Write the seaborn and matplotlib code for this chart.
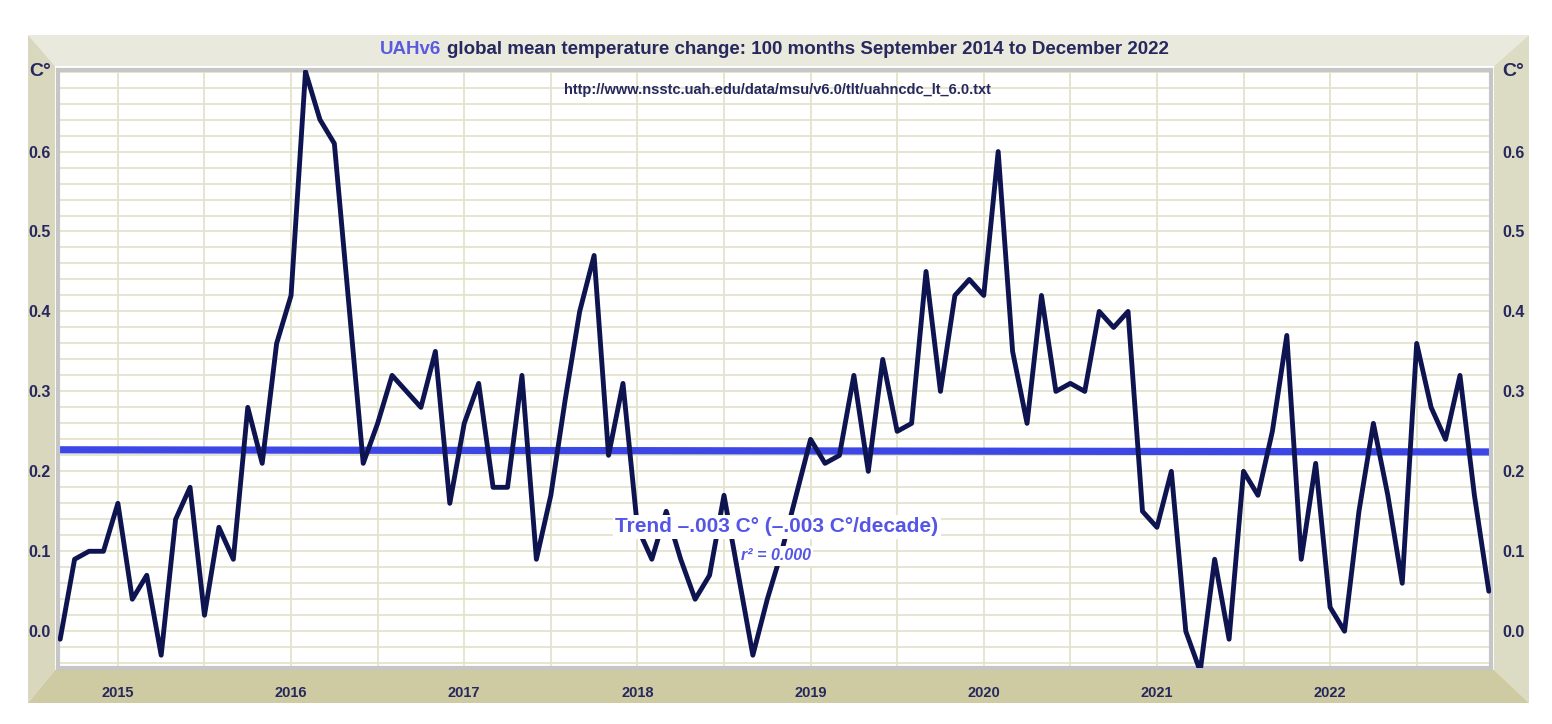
import numpy as np
import pandas as pd
import matplotlib
matplotlib.use('Agg')
import matplotlib.pyplot as plt
from matplotlib.patches import Polygon
import seaborn as sns

# monthly anomalies, Sep 2014 .. Dec 2022
temps = [-0.01, 0.09, 0.10, 0.10,
         0.16, 0.04, 0.07, -0.03, 0.14, 0.18, 0.02, 0.13, 0.09, 0.28, 0.21, 0.36,
         0.42, 0.70, 0.64, 0.61, 0.41, 0.21, 0.26, 0.32, 0.30, 0.28, 0.35, 0.16,
         0.26, 0.31, 0.18, 0.18, 0.32, 0.09, 0.17, 0.29, 0.40, 0.47, 0.22, 0.31,
         0.13, 0.09, 0.15, 0.09, 0.04, 0.07, 0.17, 0.07, -0.03, 0.04, 0.10, 0.17,
         0.24, 0.21, 0.22, 0.32, 0.20, 0.34, 0.25, 0.26, 0.45, 0.30, 0.42, 0.44,
         0.42, 0.60, 0.35, 0.26, 0.42, 0.30, 0.31, 0.30, 0.40, 0.38, 0.40, 0.15,
         0.13, 0.20, 0.00, -0.05, 0.09, -0.01, 0.20, 0.17, 0.25, 0.37, 0.09, 0.21,
         0.03, 0.00, 0.15, 0.26, 0.17, 0.06, 0.36, 0.28, 0.24, 0.32, 0.17, 0.05]
years = ['2015', '2016', '2017', '2018', '2019', '2020', '2021', '2022']
ytick_vals = [0.0, 0.1, 0.2, 0.3, 0.4, 0.5, 0.6]

df = pd.DataFrame({'month': np.arange(len(temps)), 'temp': temps})
jan_idx = [4 + 12 * i for i in range(len(years))]   # Jan 2015 is 4th month after Sep 2014

W, H = 1552, 724
navy = '#0e1450'
txt = '#26285e'
blue = '#3d47e6'

sns.set_theme(style='white')
plt.rcParams['font.family'] = ['Liberation Sans', 'DejaVu Sans']

fig = plt.figure(figsize=(W / 100, H / 100), dpi=100)
fig.patch.set_facecolor('white')

# bevelled frame around the plot
def px(x, y):
    return (x / W, 1 - y / H)

ox0, oy0, ox1, oy1 = 28, 35, 1529, 703
ix0, iy0, ix1, iy1 = 55, 66, 1494, 670
frame = [
    ([px(ox0, oy0), px(ox1, oy0), px(ix1, iy0), px(ix0, iy0)], '#e9e9dd'),  # top
    ([px(ox0, oy0), px(ix0, iy0), px(ix0, iy1), px(ox0, oy1)], '#d9d8bf'),  # left
    ([px(ox1, oy0), px(ox1, oy1), px(ix1, iy1), px(ix1, iy0)], '#dcdbc3'),  # right
    ([px(ox0, oy1), px(ix0, iy1), px(ix1, iy1), px(ox1, oy1)], '#cecaa1'),  # bottom
]
for pts, c in frame:
    fig.patches.append(Polygon(pts, closed=True, transform=fig.transFigure,
                               facecolor=c, edgecolor='none', zorder=-5))

ax = fig.add_axes([58 / W, 1 - 668 / H, (1491 - 58) / W, (668 - 70) / H])
ax.set_facecolor('white')

ax.set_xticks(jan_idx)
ax.set_xticklabels(years)
ax.set_xticks(np.arange(4, len(temps), 6), minor=True)
ax.set_yticks(ytick_vals)
ax.set_yticklabels([f'{v:.1f}' for v in ytick_vals])
ax.set_yticks(np.arange(-0.04, 0.71, 0.02), minor=True)
ax.set_xlim(-0.15, len(temps) - 0.85)
ax.set_ylim(-0.046, 0.702)

# trend line (least squares, across the whole axis) then the data line on top
sns.regplot(data=df, x='month', y='temp', scatter=False, ci=None, truncate=False,
            line_kws=dict(color=blue, lw=5.2, solid_capstyle='butt', zorder=2), ax=ax)
sns.lineplot(data=df, x='month', y='temp', color=navy, lw=3.5, ax=ax, zorder=3)
ax.set_xlim(-0.15, len(temps) - 0.85)
ax.set_ylim(-0.046, 0.702)

ax.grid(which='both', color='#e4e4cc', lw=1.3)
ax.set_axisbelow(True)
ax.set_xlabel('')
ax.set_ylabel('')
ax.tick_params(axis='x', which='both', length=0, pad=13, labelsize=10.5, labelcolor=txt)
ax.tick_params(axis='y', which='both', length=0, pad=5, labelsize=11.5, labelcolor=txt)
for lab in ax.get_xticklabels() + ax.get_yticklabels():
    lab.set_fontweight('bold')
for sp in ax.spines.values():
    sp.set_color('#c6c6c6')
    sp.set_linewidth(3)

ax2 = ax.twinx()
ax2.set_yticks(ytick_vals)
ax2.set_yticklabels([f'{v:.1f}' for v in ytick_vals])
ax2.set_ylim(-0.046, 0.702)
ax2.tick_params(axis='y', length=0, pad=8, labelsize=11.5, labelcolor=txt)
ax2.grid(False)
for lab in ax2.get_yticklabels():
    lab.set_fontweight('bold')
for sp in ax2.spines.values():
    sp.set_visible(False)

# titles and labels
fig.text(441 / W, 1 - 50 / H, 'UAHv6', color='#5a5ae0', fontsize=13.5, fontweight='bold',
         ha='right', va='center')
fig.text(447 / W, 1 - 50 / H, 'global mean temperature change: 100 months September 2014 to December 2022',
         color=txt, fontsize=13.5, fontweight='bold', ha='left', va='center')
fig.text(777 / W, 1 - 90 / H, 'http://www.nsstc.uah.edu/data/msu/v6.0/tlt/uahncdc_lt_6.0.txt',
         color=txt, fontsize=10.5, fontweight='bold', ha='center', va='center')
fig.text(40 / W, 1 - 72 / H, 'C°', color=txt, fontsize=14, fontweight='bold', ha='center', va='center')
fig.text(1513 / W, 1 - 72 / H, 'C°', color=txt, fontsize=14, fontweight='bold', ha='center', va='center')

box = dict(facecolor='white', edgecolor='none', pad=1.5)
fig.text(777 / W, 1 - 527 / H, 'Trend –.003 C° (–.003 C°/decade)', color='#5656e6',
         fontsize=15, fontweight='bold', ha='center', va='center', zorder=5, bbox=box)
fig.text(776 / W, 1 - 556 / H, 'r² = 0.000', color='#5656e6', fontsize=11.5,
         fontweight='bold', style='italic', ha='center', va='center', zorder=5, bbox=box)

fig.savefig('out.png', dpi=100, facecolor='white')
